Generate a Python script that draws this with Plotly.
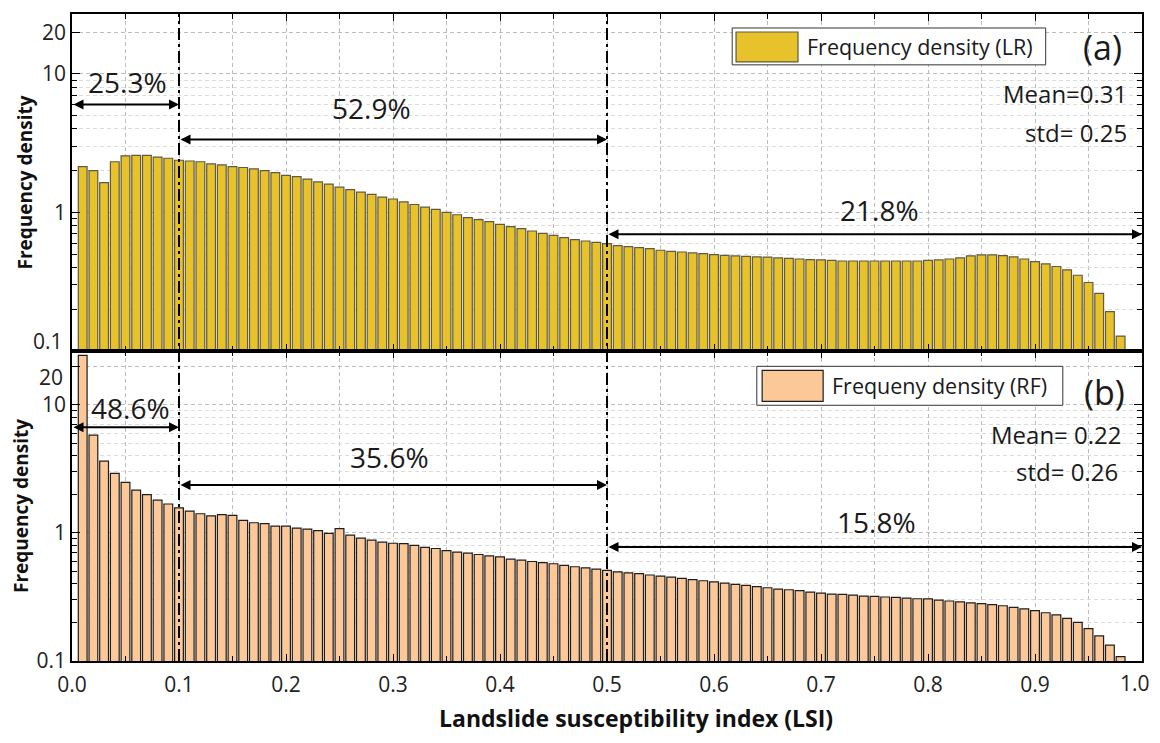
import math
import plotly.graph_objects as go

# ---------------- data ----------------
lsi_bins = [0.01, 0.02, 0.03, 0.04, 0.05, 0.06, 0.07, 0.08, 0.09, 0.10,
            0.11, 0.12, 0.13, 0.14, 0.15, 0.16, 0.17, 0.18, 0.19, 0.20,
            0.21, 0.22, 0.23, 0.24, 0.25, 0.26, 0.27, 0.28, 0.29, 0.30,
            0.31, 0.32, 0.33, 0.34, 0.35, 0.36, 0.37, 0.38, 0.39, 0.40,
            0.41, 0.42, 0.43, 0.44, 0.45, 0.46, 0.47, 0.48, 0.49, 0.50,
            0.51, 0.52, 0.53, 0.54, 0.55, 0.56, 0.57, 0.58, 0.59, 0.60,
            0.61, 0.62, 0.63, 0.64, 0.65, 0.66, 0.67, 0.68, 0.69, 0.70,
            0.71, 0.72, 0.73, 0.74, 0.75, 0.76, 0.77, 0.78, 0.79, 0.80,
            0.81, 0.82, 0.83, 0.84, 0.85, 0.86, 0.87, 0.88, 0.89, 0.90,
            0.91, 0.92, 0.93, 0.94, 0.95, 0.96, 0.97, 0.98]

lr_density = [2.14, 2.00, 1.64, 2.32, 2.56, 2.58, 2.58, 2.51, 2.46, 2.38,
              2.35, 2.32, 2.24, 2.20, 2.14, 2.11, 2.06, 2.00, 1.94, 1.85,
              1.81, 1.74, 1.66, 1.60, 1.52, 1.46, 1.40, 1.35, 1.29, 1.25,
              1.19, 1.14, 1.09, 1.05, 1.00, 0.962, 0.916, 0.886, 0.857, 0.820,
              0.789, 0.763, 0.734, 0.706, 0.683, 0.658, 0.636, 0.622, 0.608, 0.595,
              0.576, 0.566, 0.557, 0.548, 0.533, 0.524, 0.518, 0.510, 0.504, 0.496,
              0.490, 0.485, 0.482, 0.477, 0.475, 0.469, 0.466, 0.461, 0.457, 0.454,
              0.450, 0.446, 0.446, 0.446, 0.446, 0.446, 0.446, 0.446, 0.446, 0.450,
              0.454, 0.461, 0.469, 0.485, 0.493, 0.493, 0.487, 0.477, 0.461, 0.442,
              0.425, 0.407, 0.385, 0.352, 0.312, 0.260, 0.192, 0.128]

rf_density = [24.3, 5.79, 3.63, 2.91, 2.48, 2.16, 1.99, 1.80, 1.68, 1.57,
              1.48, 1.41, 1.36, 1.39, 1.37, 1.25, 1.20, 1.18, 1.13, 1.13,
              1.09, 1.07, 1.04, 0.99, 1.08, 0.96, 0.91, 0.877, 0.846, 0.830,
              0.825, 0.800, 0.770, 0.755, 0.728, 0.708, 0.695, 0.678, 0.662, 0.650,
              0.624, 0.612, 0.598, 0.587, 0.574, 0.557, 0.544, 0.534, 0.521, 0.509,
              0.497, 0.488, 0.480, 0.469, 0.460, 0.452, 0.441, 0.431, 0.423, 0.415,
              0.406, 0.396, 0.389, 0.380, 0.373, 0.364, 0.360, 0.354, 0.345, 0.339,
              0.333, 0.331, 0.327, 0.321, 0.319, 0.316, 0.314, 0.310, 0.306, 0.305,
              0.299, 0.294, 0.289, 0.284, 0.280, 0.275, 0.270, 0.262, 0.255, 0.247,
              0.238, 0.229, 0.215, 0.200, 0.179, 0.157, 0.133, 0.108]

thresholds = [0.1, 0.5]
lr_shares = ["25.3%", "52.9%", "21.8%"]
rf_shares = ["48.6%", "35.6%", "15.8%"]
lr_stats = ["Mean=0.31", "std= 0.25"]
rf_stats = ["Mean= 0.22", "std= 0.26"]
lr_name = "Frequency density (LR)"
rf_name = "Frequeny density (RF)"
x_title = "Landslide susceptibility index (LSI)"
y_title = "Frequency density"

y_tickvals = [0.1, 1, 10, 20]
y_ticktext_top = ["", "1", "10", "20"]       # top-panel "0.1" drawn just above the seam
y_ticktext_bottom = ["0.1", "1", "10", ""]   # bottom-panel "20" drawn a little lower
y_minorvals = [0.2, 0.3, 0.4, 0.5, 0.6, 0.7, 0.8, 0.9, 2, 3, 4, 5, 6, 7, 8, 9]
x_tickvals = [0.0, 0.1, 0.2, 0.3, 0.4, 0.5, 0.6, 0.7, 0.8, 0.9, 1.0]
x_ticktext = ["0.0", "0.1", "0.2", "0.3", "0.4", "0.5", "0.6", "0.7", "0.8", "0.9", ""]
x_last_label = "1.0"

# ---------------- style ----------------
FONT = "Open Sans"
YELLOW = "#E8C22B"
PEACH = "#FDC898"
GRID = "#bdbdbd"
MINORGRID = "#dcdcdc"
TICKFONT = dict(family=FONT, size=21, color="#222")

fig = go.Figure()
fig.add_trace(go.Bar(x=lsi_bins, y=lr_density, width=0.0082, name=lr_name,
                     marker=dict(color=YELLOW, line=dict(color="#5f5a40", width=1.2)),
                     xaxis="x", yaxis="y", showlegend=False))
fig.add_trace(go.Bar(x=lsi_bins, y=rf_density, width=0.0082, name=rf_name,
                     marker=dict(color=PEACH, line=dict(color="#1e1e1e", width=1.2)),
                     xaxis="x2", yaxis="y2", showlegend=False))

split = 0.4792
common_x = dict(range=[0, 1], tickvals=x_tickvals, ticktext=x_ticktext,
                showgrid=True, gridcolor=GRID,
                griddash="4px,3px", gridwidth=1, zeroline=False,
                showline=True, linecolor="black", linewidth=1.5, mirror="ticks",
                ticks="inside", ticklen=7, tickcolor="black", tickwidth=1.2,
                minor=dict(dtick=0.05, tick0=0, showgrid=True, gridcolor=GRID,
                           griddash="4px,3px", ticks="inside", ticklen=5,
                           tickcolor="black"))
common_y = dict(type="log", tickvals=y_tickvals,
                showgrid=True, gridcolor=GRID, griddash="4px,3px", zeroline=False,
                showline=True, linecolor="black", linewidth=1.5, mirror="ticks",
                ticks="inside", ticklen=8, tickcolor="black", tickwidth=1.2,
                tickfont=TICKFONT,
                minor=dict(tickmode="array", tickvals=y_minorvals, showgrid=True,
                           gridcolor=MINORGRID, griddash="4px,3px", ticks="inside",
                           ticklen=5, tickcolor="black"))

# page body has 8px default margins -> figure sized to fit the 1160x743 window
fig.update_layout(
    width=1144, height=727,
    margin=dict(l=64, r=10, t=4, b=74),
    paper_bgcolor="white", plot_bgcolor="white",
    font=dict(family=FONT, color="#222"),
    barmode="overlay",
    xaxis=dict(anchor="y", domain=[0, 1], showticklabels=False, matches="x2", **common_x),
    xaxis2=dict(anchor="y2", domain=[0, 1], showticklabels=True,
                tickfont=TICKFONT, ticklabelstandoff=4, **common_x),
    yaxis=dict(anchor="x", domain=[split, 1], range=[-1, 1.432],
               ticktext=y_ticktext_top,
               title=dict(text="<b>" + y_title + "</b>",
                          font=dict(family=FONT, size=19, color="#111"), standoff=4),
               **common_y),
    yaxis2=dict(anchor="x2", domain=[0, split], range=[-1, 1.42],
                ticktext=y_ticktext_bottom,
                title=dict(text="<b>" + y_title + "</b>",
                           font=dict(family=FONT, size=19, color="#111"), standoff=4),
                **common_y),
)

# x-axis title (slightly right of centre, as in the original)
fig.add_annotation(xref="paper", yref="paper", x=0.527, y=0, yshift=-57,
                   text="<b>" + x_title + "</b>", showarrow=False,
                   xanchor="center", yanchor="middle",
                   font=dict(family=FONT, size=23, color="#111"))

# tick labels that sit at the plot edges / panel seam
fig.add_annotation(xref="paper", yref="paper", x=0, y=0.4950, text="0.1",
                   showarrow=False, xanchor="right", yanchor="middle", xshift=-8,
                   borderpad=0, font=TICKFONT)
fig.add_annotation(xref="paper", yref="paper", x=0, y=0.439, text="20",
                   showarrow=False, xanchor="right", yanchor="middle", xshift=-8,
                   borderpad=0, font=TICKFONT)
fig.add_annotation(xref="paper", yref="paper", x=1, y=0, text=x_last_label,
                   showarrow=False, xanchor="right", yanchor="middle",
                   xshift=10, yshift=-22, font=TICKFONT)

# vertical dash-dot threshold lines across both panels
for t in thresholds:
    fig.add_shape(type="line", xref="x2", yref="paper", x0=t, x1=t, y0=0, y1=1,
                  line=dict(color="black", width=2, dash="12px,4px,3px,4px"),
                  layer="above")


def arrow(xr, yr, x0, x1, ylog):
    fig.add_annotation(xref=xr, yref=yr, axref=xr, ayref=yr,
                       x=x1, y=ylog, ax=x0, ay=ylog, text="", showarrow=True,
                       arrowhead=2, arrowside="end+start", arrowsize=1,
                       arrowwidth=2, arrowcolor="black")


def label(xr, yr, x, ylog, txt, size, xanchor="center"):
    fig.add_annotation(xref=xr, yref=yr, x=x, y=ylog, text=txt, showarrow=False,
                       xanchor=xanchor, yanchor="middle",
                       font=dict(family=FONT, size=size, color="#1a1a1a"))


def rect(xr, yr, x0, x1, ylog0, ylog1, fill, edge, w):
    # shapes on log axes take data values
    fig.add_shape(type="rect", xref=xr, yref=yr, x0=x0, x1=x1,
                  y0=10 ** ylog0, y1=10 ** ylog1,
                  line=dict(color=edge, width=w), fillcolor=fill, layer="above")


# panel (a)
arrow("x", "y", 0.0, 0.1, 0.779)
arrow("x", "y", 0.1, 0.5, 0.527)
arrow("x", "y", 0.5, 1.0, -0.158)
label("x", "y", 0.0514, 0.942, lr_shares[0], 28)
label("x", "y", 0.280, 0.755, lr_shares[1], 28)
label("x", "y", 0.755, 0.014, lr_shares[2], 28)
label("x", "y", 0.988, 0.856, lr_stats[0], 24, "right")
label("x", "y", 0.988, 0.576, lr_stats[1], 24, "right")
label("x", "y", 0.963, 1.194, "(a)", 34)

# panel (b)
arrow("x2", "y2", 0.0, 0.1, 0.825)
arrow("x2", "y2", 0.1, 0.5, 0.374)
arrow("x2", "y2", 0.5, 1.0, -0.111)
label("x2", "y2", 0.055, 0.973, rf_shares[0], 28)
label("x2", "y2", 0.297, 0.591, rf_shares[1], 28)
label("x2", "y2", 0.7515, 0.086, rf_shares[2], 28)
label("x2", "y2", 0.983, 0.770, rf_stats[0], 24, "right")
label("x2", "y2", 0.979, 0.482, rf_stats[1], 24, "right")
label("x2", "y2", 0.965, 1.097, "(b)", 34)

# custom legends (box + swatch + text)
rect("x", "y", 0.617, 0.910, 1.065, 1.331, "white", "#333", 1)
rect("x", "y", 0.6206, 0.6785, 1.086, 1.302, YELLOW, "#5f5a40", 1.2)
label("x", "y", 0.685, 1.198, lr_name, 21.5, "left")

rect("x2", "y2", 0.640, 0.926, 0.996, 1.300, "white", "#333", 1)
rect("x2", "y2", 0.645, 0.702, 1.027, 1.268, PEACH, "#1e1e1e", 1.2)
label("x2", "y2", 0.708, 1.148, rf_name, 21.5, "left")

fig.write_html("out.html")
